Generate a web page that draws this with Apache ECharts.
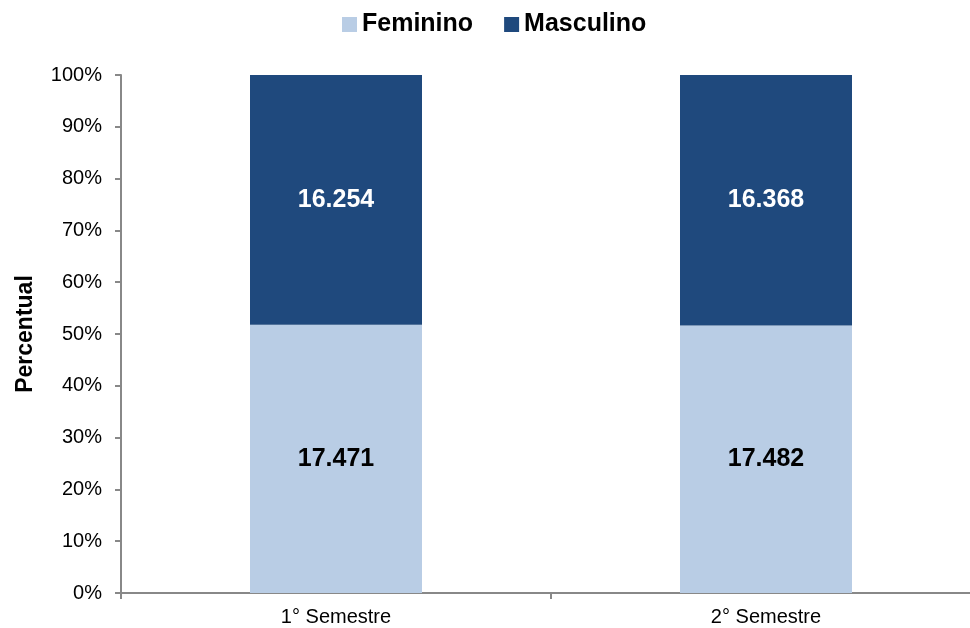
<!DOCTYPE html>
<html>
<head>
<meta charset="utf-8">
<script src="https://cdn.jsdelivr.net/npm/echarts@6/dist/echarts.min.js"></script>
<style>
    html, body { margin: 0; padding: 0; background: #fff; }
    #chart { width: 970px; height: 628px; }
</style>
</head>
<body>
<div id="chart"></div>
<script>
// Data
var categories = ['1° Semestre', '2° Semestre'];
var feminino = [17471, 17482];
var masculino = [16254, 16368];
var yTicks = ['0%', '10%', '20%', '30%', '40%', '50%', '60%', '70%', '80%', '90%', '100%'];

// Share of each group per semester, in percent
var toPct = function (part, i) {
    return part[i] / (feminino[i] + masculino[i]) * 100;
};
var fmt = function (n) {
    return String(n).replace(/\B(?=(\d{3})+(?!\d))/g, '.');
};

var chart = echarts.init(document.getElementById('chart'));

chart.setOption({
    animation: false,
    color: ['#b9cde5', '#1f497d'],
    textStyle: {
        fontFamily: 'Liberation Sans, Arial, sans-serif'
    },
    legend: {
        top: 7,
        left: 337,
        itemWidth: 15,
        itemHeight: 15,
        itemGap: 31,
        icon: 'rect',
        textStyle: {
            fontSize: 25,
            fontWeight: 'bold',
            color: '#000'
        },
        data: ['Feminino', 'Masculino']
    },
    grid: {
        left: 121,
        width: 860,
        top: 75,
        bottom: 35,
        containLabel: false,
        outerBoundsMode: 'none'
    },
    xAxis: {
        type: 'category',
        data: categories,
        axisLine: { lineStyle: { color: '#888', width: 2 } },
        axisTick: { show: true, length: 6, lineStyle: { color: '#888', width: 2 } },
        axisLabel: { fontSize: 20, color: '#000', margin: 14 }
    },
    yAxis: {
        type: 'value',
        min: 0,
        max: 100,
        interval: 10,
        name: 'Percentual',
        nameLocation: 'middle',
        nameGap: 84,
        nameTextStyle: { fontSize: 23, fontWeight: 'bold', color: '#000' },
        axisLine: { show: true, lineStyle: { color: '#888', width: 2 } },
        axisTick: { show: true, length: 6, lineStyle: { color: '#888', width: 2 } },
        splitLine: { show: false },
        axisLabel: {
            fontSize: 20,
            color: '#000',
            margin: 19,
            formatter: function (v) { return yTicks[Math.round(v / 10)]; }
        }
    },
    series: [{
        name: 'Feminino',
        type: 'bar',
        stack: 'total',
        barWidth: '40%',
        label: {
            show: true,
            position: 'inside',
            fontSize: 25,
            fontWeight: 'bold',
            color: '#000',
            formatter: function (p) { return fmt(feminino[p.dataIndex]); }
        },
        data: categories.map(function (c, i) { return toPct(feminino, i); })
    }, {
        name: 'Masculino',
        type: 'bar',
        stack: 'total',
        barWidth: '40%',
        label: {
            show: true,
            position: 'inside',
            fontSize: 25,
            fontWeight: 'bold',
            color: '#fff',
            formatter: function (p) { return fmt(masculino[p.dataIndex]); }
        },
        data: categories.map(function (c, i) { return toPct(masculino, i); })
    }]
});
</script>
</body>
</html>
